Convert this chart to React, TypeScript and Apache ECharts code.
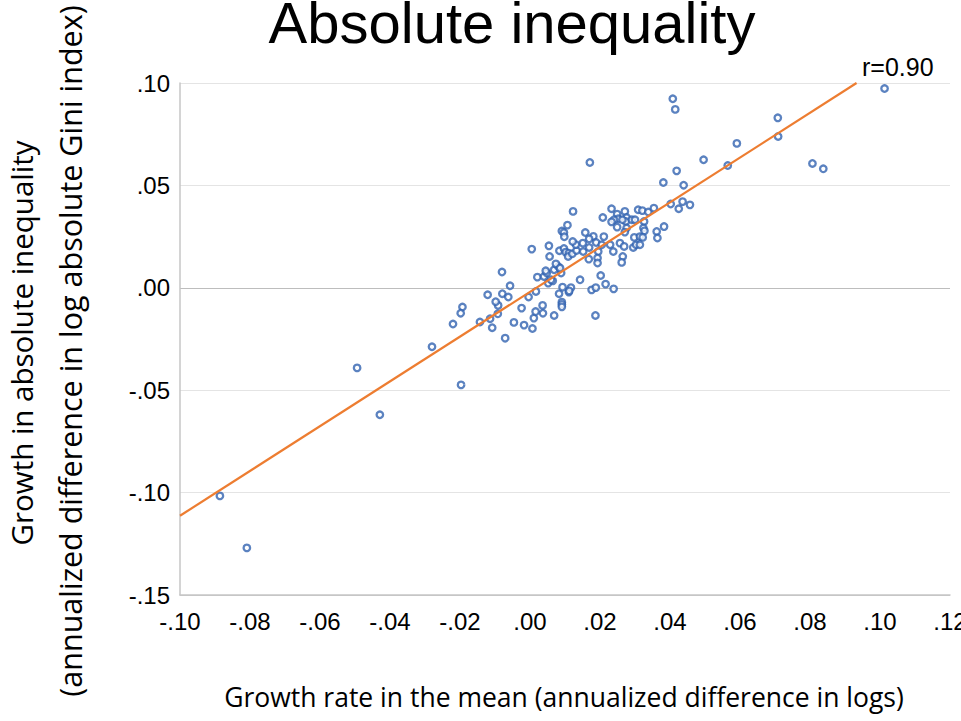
import React, { useEffect, useRef } from "react";
import * as echarts from "echarts";

// Growth rate in the mean (annualized difference in logs)
const growthMean: number[] = [
  -0.0886, -0.0809, -0.0494, -0.0429, -0.028, -0.0197, -0.0193, -0.0198, -0.022, -0.0143,
  -0.0121, -0.0114, -0.0108, -0.0092, -0.0091, -0.0098, -0.0079, -0.0062, -0.0071, -0.008,
  -0.0057, -0.0046, -0.0024, -0.0017, 0.0007, 0.0011, 0.0016, 0.0036, 0.0037, 0.0069,
  0.0091, 0.0091, 0.0091, 0.0083, 0.0111, 0.0117, 0.0112, 0.0093, 0.0017, -0.0004,
  0.0052, 0.0065, 0.006, 0.0021, 0.004, 0.0048, 0.0045, 0.0089, 0.0069, 0.0081,
  0.0074, 0.0086, 0.0005, 0.0054, 0.0056, 0.0084, 0.0097, 0.0102, 0.0111, 0.0109,
  0.0121, 0.0133, 0.0131, 0.0122, 0.0123, 0.0107, 0.0091, 0.0097, 0.0098, 0.0158,
  0.0181, 0.0169, 0.0151, 0.0152, 0.0169, 0.0189, 0.0195, 0.0193, 0.0168, 0.0193,
  0.0143, 0.0176, 0.0188, 0.0187, 0.0202, 0.0216, 0.0239, 0.0208, 0.0233, 0.0249,
  0.0252, 0.024, 0.0233, 0.0271, 0.0276, 0.0274, 0.0264, 0.0291, 0.03, 0.0309,
  0.0321, 0.0338, 0.0354, 0.0402, 0.0436, 0.0425, 0.0457, 0.0326, 0.0324, 0.0327,
  0.0362, 0.0364, 0.0383, 0.0249, 0.0276, 0.0271, 0.0211, 0.0205, 0.0229, 0.0238,
  0.0257, 0.0269, 0.0295, 0.0303, 0.0298, 0.0314, 0.0322, 0.0314, 0.0265, 0.0262,
  0.1013, 0.0408, 0.0415, 0.0708, 0.0709, 0.0591, 0.0171, 0.0496, 0.0565, 0.0807,
  0.0838, 0.0419, 0.0381, 0.0439,
];

// Growth in absolute inequality (annualized difference in log absolute Gini index)
const growthInequality: number[] = [
  -0.1016, -0.127, -0.0391, -0.062, -0.0288, -0.0474, -0.0094, -0.0124, -0.0177, -0.0167,
  -0.0034, -0.0151, -0.0195, -0.0127, -0.0086, -0.0068, -0.0029, -0.0045, -0.0246, 0.0077,
  0.001, -0.0169, -0.0099, -0.0182, -0.0199, -0.0148, -0.0116, -0.0086, -0.0124, -0.0135,
  -0.007, -0.0081, -0.0093, -0.0029, -0.0021, 0.0001, -0.0015, 0.0003, -0.0018, -0.0045,
  0.0023, 0.0034, 0.0039, 0.0052, 0.0055, 0.0072, 0.0083, 0.0072, 0.0088, 0.0104,
  0.0117, 0.0096, 0.0189, 0.0205, 0.0153, 0.0181, 0.0192, 0.0174, 0.0169, 0.0153,
  0.0166, 0.0182, 0.0211, 0.0226, 0.0373, 0.0306, 0.0277, 0.027, 0.0249, 0.027,
  0.0251, 0.0239, 0.0218, 0.0177, 0.0197, 0.0221, 0.0177, 0.0145, 0.014, 0.0121,
  0.0039, -0.001, 0.0001, -0.0135, 0.006, 0.0018, -0.0005, 0.0343, 0.0386, 0.036,
  0.0337, 0.0332, 0.0322, 0.0373, 0.0343, 0.0324, 0.0332, 0.0332, 0.0332, 0.0381,
  0.0377, 0.037, 0.0389, 0.0409, 0.0421, 0.0386, 0.0405, 0.0324, 0.0292, 0.0278,
  0.0275, 0.0243, 0.0299, 0.0296, 0.0292, 0.0272, 0.025, 0.021, 0.021, 0.0177,
  0.0218, 0.0202, 0.0197, 0.021, 0.0246, 0.025, 0.0246, 0.021, 0.0153, 0.0124,
  0.0973, 0.0923, 0.0871, 0.083, 0.0739, 0.0705, 0.0612, 0.0625, 0.0597, 0.0607,
  0.0581, 0.0571, 0.0514, 0.0501,
];

// Fitted line end points
const trendX: number[] = [-0.1, 0.0933];
const trendY: number[] = [-0.1113, 0.1];

const titleText = "Absolute inequality";
const xAxisTitle = "Growth rate in the mean (annualized difference in logs)";
const yAxisTitleLine1 = "Growth in absolute inequality";
const yAxisTitleLine2 = "(annualized difference in log absolute Gini index)";
const corrLabel = "r=0.90";

const fmtTick = (v: number) => {
  const s = Math.abs(v).toFixed(2).replace(/^0/, "");
  return (v < -1e-9 ? "-" : "") + s;
};

export default function App() {
  const ref = useRef<HTMLDivElement>(null);
  useEffect(() => {
    const chart = echarts.init(ref.current!, null, { renderer: "svg" });
    const points = growthMean.map((x, i) => [x, growthInequality[i]]);
    const trend = trendX.map((x, i) => [x, trendY[i]]);
    const tickFont = {
      fontFamily: "'Liberation Sans', Arial, sans-serif",
      fontSize: 24,
      color: "#000",
    };
    chart.setOption({
      animation: false,
      backgroundColor: "#fff",
      grid: {
        left: 180,
        right: 11,
        top: 83,
        bottom: 126,
        containLabel: false,
        outerBoundsMode: "none",
      },
      xAxis: {
        type: "value",
        min: -0.1,
        max: 0.12,
        interval: 0.02,
        axisLine: { show: true, onZero: false, lineStyle: { color: "#c6c6c6", width: 1.5 } },
        axisTick: { show: false },
        splitLine: { show: false },
        axisLabel: { ...tickFont, margin: 14, formatter: fmtTick },
      },
      yAxis: {
        type: "value",
        min: -0.15,
        max: 0.1,
        interval: 0.05,
        axisLine: { show: true, onZero: false, lineStyle: { color: "#c6c6c6", width: 1.5 } },
        axisTick: { show: false },
        splitLine: {
          show: true,
          lineStyle: {
            color: ["#c6c6c6", "#e4e4e4", "#e4e4e4", "#bdbdbd", "#e4e4e4", "#e4e4e4"],
            width: 1,
          },
        },
        axisLabel: { ...tickFont, margin: 10, formatter: fmtTick },
      },
      series: [
        {
          type: "scatter",
          data: points,
          symbol: "circle",
          symbolSize: 6.5,
          itemStyle: { color: "#ffffff", borderColor: "#3263B0", borderWidth: 2.3 },
          z: 2,
        },
        {
          type: "line",
          data: trend,
          symbol: "none",
          lineStyle: { color: "#ED7D31", width: 2.2 },
          z: 3,
        },
      ],
      graphic: [
        {
          type: "text",
          x: 512,
          y: 22,
          style: {
            text: titleText,
            fontFamily: "'Liberation Sans', Arial, sans-serif",
            fontSize: 58,
            fill: "#000",
            align: "center",
            verticalAlign: "middle",
          },
        },
        {
          type: "text",
          x: 862,
          y: 67,
          style: {
            text: corrLabel,
            fontFamily: "'Liberation Sans', Arial, sans-serif",
            fontSize: 25,
            fill: "#000",
            align: "left",
            verticalAlign: "middle",
          },
        },
        {
          type: "text",
          x: 564,
          y: 697,
          style: {
            text: xAxisTitle,
            fontFamily: "'Open Sans', sans-serif",
            fontSize: 26.5,
            fill: "#000",
            align: "center",
            verticalAlign: "middle",
          },
        },
        {
          type: "text",
          x: 21,
          y: 343,
          rotation: Math.PI / 2,
          style: {
            text: yAxisTitleLine1,
            fontFamily: "'Open Sans', sans-serif",
            fontSize: 29.5,
            fill: "#000",
            align: "center",
            verticalAlign: "middle",
          },
        },
        {
          type: "text",
          x: 70,
          y: 351,
          rotation: Math.PI / 2,
          style: {
            text: yAxisTitleLine2,
            fontFamily: "'Open Sans', sans-serif",
            fontSize: 30.5,
            fill: "#000",
            align: "center",
            verticalAlign: "middle",
          },
        },
      ],
    });
    return () => chart.dispose();
  }, []);
  return (
    <div
      ref={ref}
      style={{ position: "fixed", left: 0, top: 0, width: 961, height: 721, background: "#fff" }}
    />
  );
}
